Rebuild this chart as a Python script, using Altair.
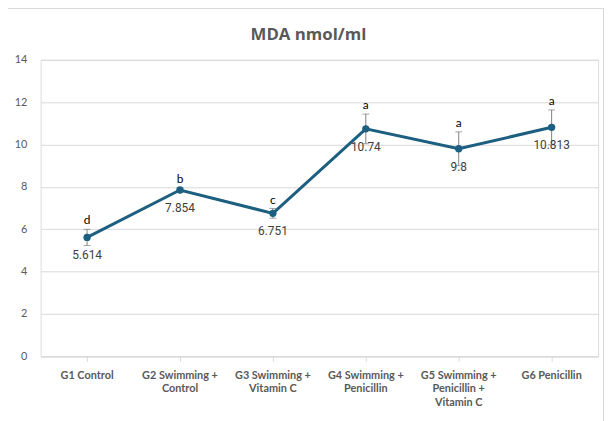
import json
import altair as alt
import pandas as pd

title_text = "MDA nmol/ml"
categories = [
    "G1 Control",
    "G2 Swimming + Control",
    "G3 Swimming + Vitamin C",
    "G4 Swimming + Penicillin",
    "G5 Swimming + Penicillin + Vitamin C",
    "G6 Penicillin",
]
wrapped = [
    ["G1 Control"],
    ["G2 Swimming +", "Control"],
    ["G3 Swimming +", "Vitamin C"],
    ["G4 Swimming +", "Penicillin"],
    ["G5 Swimming +", "Penicillin +", "Vitamin C"],
    ["G6 Penicillin"],
]
means = [5.614, 7.854, 6.751, 10.74, 9.8, 10.813]
errors = [0.38, 0.10, 0.23, 0.70, 0.80, 0.82]
letters = ["d", "b", "c", "a", "a", "a"]
value_labels = ["5.614", "7.854", "6.751", "10.74", "9.8", "10.813"]
y_ticks = [0, 2, 4, 6, 8, 10, 12, 14]

df = pd.DataFrame({
    "group": categories,
    "mean": means,
    "err": errors,
    "letter": letters,
    "vlabel": value_labels,
})
df["lo"] = df["mean"] - df["err"]
df["hi"] = df["mean"] + df["err"]

label_expr = ""
for c, w in zip(categories, wrapped):
    label_expr += f"datum.label == {json.dumps(c)} ? {json.dumps(w)} : "
label_expr += "datum.label"

LINE = "#1d5f80"
GRAY = "#595959"

x = alt.X(
    "group:N",
    sort=categories,
    title=None,
    scale=alt.Scale(paddingInner=0, paddingOuter=0),
    axis=alt.Axis(
        labelAngle=0,
        labelExpr=label_expr,
        labelFont="Lato",
        labelFontWeight="bold",
        labelFontSize=11,
        labelColor=GRAY,
        labelPadding=8,
        labelLineHeight=14,
        domainColor="#d9d9d9",
        tickColor="#d9d9d9",
        tickSize=5,
        grid=False,
    ),
)
y_scale = alt.Scale(domain=[0, 14], nice=False)
y_axis = alt.Axis(
    values=y_ticks,
    title=None,
    domain=False,
    ticks=False,
    labelFont="Lato",
    labelFontSize=11,
    labelColor=GRAY,
    labelPadding=14,
    gridColor="#d9d9d9",
    gridWidth=1,
)

base = alt.Chart(df).encode(x=x)

border = alt.Chart(df).mark_rect(
    fill=None, stroke="#d9d9d9", strokeWidth=1
).encode(
    x=alt.value(-35.5), x2=alt.value(569.5), y=alt.value(-52.5), y2=alt.value(380)
)

title = alt.Chart(pd.DataFrame({"t": [title_text]})).mark_text(
    font="Open Sans", fontSize=17, fontWeight="bold", color=GRAY,
    baseline="alphabetic", align="center",
).encode(x=alt.value(271), y=alt.value(-20), text="t:N")

err_rule = base.mark_rule(color="#7f7f7f", strokeWidth=1).encode(
    y=alt.Y("lo:Q", scale=y_scale, axis=y_axis), y2="hi:Q"
)
err_top = base.mark_tick(color="#7f7f7f", size=7, thickness=1).encode(y="hi:Q")
err_bot = base.mark_tick(color="#7f7f7f", size=7, thickness=1).encode(y="lo:Q")

line = base.mark_line(color=LINE, strokeWidth=3).encode(y="mean:Q")
points = base.mark_circle(color=LINE, size=55, opacity=1).encode(y="mean:Q")

vtext = base.mark_text(
    font="Roboto", fontSize=12, color="#404040", baseline="middle", dy=18
).encode(y="mean:Q", text="vlabel:N")

ltext = base.mark_text(
    font="Lato", fontSize=12, color="#000000", baseline="alphabetic", dy=-5
).encode(y="hi:Q", text="letter:N")

chart = alt.layer(
    border, title, err_rule, err_top, err_bot, line, points, vtext, ltext
).properties(
    width=564,
    height=300,
    autosize=alt.AutoSizeParams(type="none"),
    padding={"left": 33, "top": 50, "right": 8, "bottom": 63},
).configure_view(stroke=None).configure(background="white")

chart.save("out.html", embed_options={"renderer": "svg", "actions": False})
